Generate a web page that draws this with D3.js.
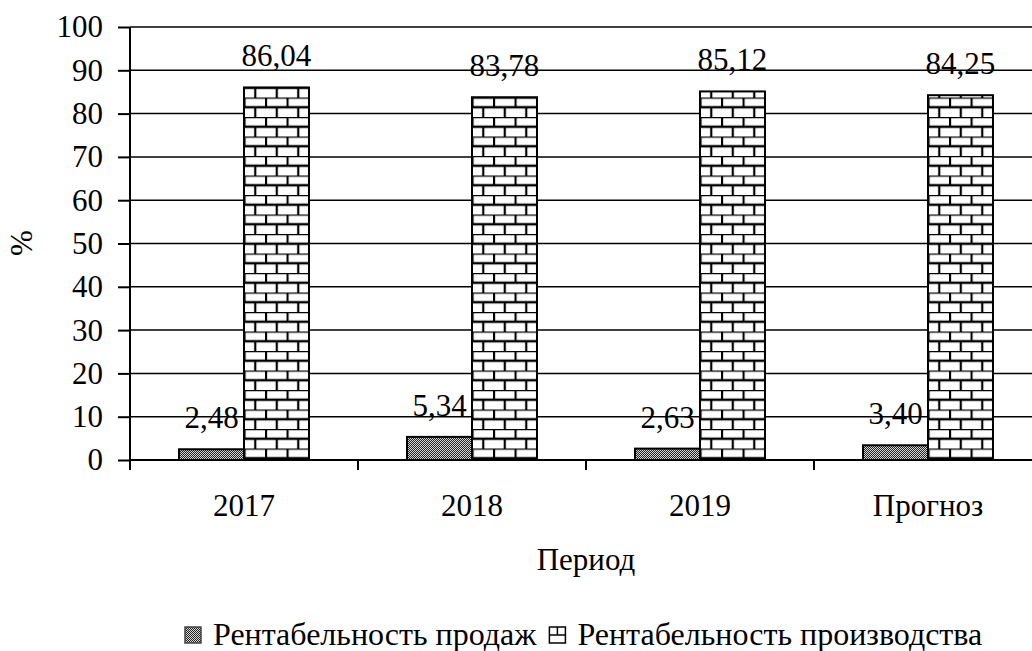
<!DOCTYPE html>
<html>
<head>
<meta charset="utf-8">
<script src="https://cdn.jsdelivr.net/npm/d3@7"></script>
</head>
<body style="margin:0;background:#fff">
<svg id="chart" width="1032" height="651" style="display:block"></svg>
<script>
// Profitability indicators by period, %
const categories = ["2017", "2018", "2019", "Прогноз"];
const salesProfit = [2.48, 5.34, 2.63, 3.40];
const productionProfit = [86.04, 83.78, 85.12, 84.25];
const seriesNames = ["Рентабельность продаж", "Рентабельность производства"];
const yTicks = [0, 10, 20, 30, 40, 50, 60, 70, 80, 90, 100];

const FONT = "'Liberation Serif'";
const FS = 31;
const setFont = (sel, size = FS) => sel.style("font-family", FONT).style("font-size", size + "px").attr("fill", "#000");

const series = [
  { name: seriesNames[0], values: salesProfit, fill: "url(#dots)" },
  { name: seriesNames[1], values: productionProfit, fill: "url(#bricks)" }
];

const svg = d3.select("#chart");
const fmt = v => v.toFixed(2).replace(".", ",");

// Fill patterns
const defs = svg.append("defs");
const dots = defs.append("pattern").attr("id", "dots")
  .attr("patternUnits", "userSpaceOnUse").attr("width", 2).attr("height", 2);
dots.append("rect").attr("width", 2).attr("height", 2).attr("fill", "#d8d8d8");
dots.append("rect").attr("width", 1).attr("height", 1).attr("fill", "#222");
dots.append("rect").attr("x", 1).attr("y", 1).attr("width", 1).attr("height", 1).attr("fill", "#222");

const bw = 21.5, bh = 9.75;
const bricks = defs.append("pattern").attr("id", "bricks")
  .attr("patternUnits", "userSpaceOnUse").attr("width", bw).attr("height", bh * 2);
bricks.append("rect").attr("width", bw).attr("height", bh * 2).attr("fill", "#fff");
bricks.append("path")
  .attr("d", `M0,0H${bw}M0,${bh}H${bw}M1,0V${bh}M${bw / 2 + 1},${bh}V${bh * 2}`)
  .attr("stroke", "#000").attr("stroke-width", 2.2).attr("fill", "none");

// Scales
const plot = { left: 130, right: 1042, top: 27, bottom: 460 };
const x0 = d3.scaleBand().domain(categories)
  .range([plot.left, plot.right]).paddingInner(0.43).paddingOuter(0.215);
const x1 = d3.scaleBand().domain([0, 1]).range([0, x0.bandwidth()]);
const y = d3.scaleLinear().domain([0, 100]).range([plot.bottom, plot.top]);

// Horizontal gridlines
svg.append("g").selectAll("line").data(yTicks.filter(t => t > 0)).join("line")
  .attr("x1", plot.left).attr("x2", 1032)
  .attr("y1", d => y(d)).attr("y2", d => y(d))
  .attr("stroke", "#000").attr("stroke-width", 1.5);

// Bars
const groups = svg.append("g").selectAll("g").data(categories).join("g")
  .attr("transform", d => `translate(${x0(d)},0)`);

groups.selectAll("rect").data((c, i) => series.map((s, k) => ({ k, v: s.values[i], fill: s.fill })))
  .join("rect")
  .attr("x", d => x1(d.k))
  .attr("y", d => y(d.v))
  .attr("width", x1.bandwidth())
  .attr("height", d => y(0) - y(d.v))
  .attr("fill", d => d.fill)
  .attr("stroke", "#000").attr("stroke-width", 2);

// Value labels
groups.selectAll("text").data((c, i) => series.map((s, k) => ({ k, v: s.values[i] })))
  .join("text")
  .attr("x", d => x1(d.k) + x1.bandwidth() / 2)
  .attr("y", d => y(d.v) - 21)
  .attr("text-anchor", "middle")
  .call(setFont)
  .text(d => fmt(d.v));

// Y axis
const yAxis = svg.append("g").attr("transform", `translate(${plot.left},0)`)
  .call(d3.axisLeft(y).tickValues(yTicks).tickSize(12).tickPadding(15));
yAxis.attr("font-family", null).attr("font-size", null);
yAxis.select(".domain").attr("stroke-width", 2).attr("d", `M0,${plot.top}V${plot.bottom}`);
yAxis.selectAll(".tick line").attr("stroke-width", 2);
yAxis.selectAll("text").call(setFont);

// X axis
const xAxis = svg.append("g").attr("transform", `translate(0,${plot.bottom})`);
xAxis.append("line").attr("x1", plot.left).attr("x2", plot.right)
  .attr("stroke", "#000").attr("stroke-width", 2);
const bounds = categories.map(c => x0(c) - x0.step() * x0.paddingInner() / 2);
xAxis.selectAll("line.tk").data(bounds.concat([plot.right])).join("line")
  .attr("class", "tk")
  .attr("x1", d => d).attr("x2", d => d).attr("y1", 0).attr("y2", 10)
  .attr("stroke", "#000").attr("stroke-width", 2);
xAxis.selectAll("text").data(categories).join("text")
  .attr("x", d => x0(d) + x0.bandwidth() / 2)
  .attr("y", 56)
  .attr("text-anchor", "middle")
  .call(setFont)
  .text(d => d);

// Axis titles
svg.append("text").attr("x", 586).attr("y", 570).attr("text-anchor", "middle")
  .call(setFont).text("Период");
svg.append("text").attr("transform", "translate(32,243) rotate(-90)")
  .attr("text-anchor", "middle").call(setFont).text("%");

// Legend
const legend = svg.append("g").attr("transform", "translate(185,645)");
let lx = 0;
series.forEach((s, k) => {
  const sw = legend.append("g").attr("transform", `translate(${lx},-18)`);
  sw.append("rect").attr("width", 16).attr("height", 16)
    .attr("fill", k === 0 ? "url(#dots)" : "#fff")
    .attr("stroke", k === 0 ? "#444" : "#000").attr("stroke-width", 1.5);
  if (k === 1) {
    sw.append("path").attr("d", "M0,8H16M8,0V8")
      .attr("stroke", "#000").attr("stroke-width", 1.5);
  }
  const t = legend.append("text").attr("x", lx + 28).attr("y", 0)
    .call(setFont, 32).text(s.name);
  lx += 28 + t.node().getComputedTextLength() + 13;
});
</script>
</body>
</html>
